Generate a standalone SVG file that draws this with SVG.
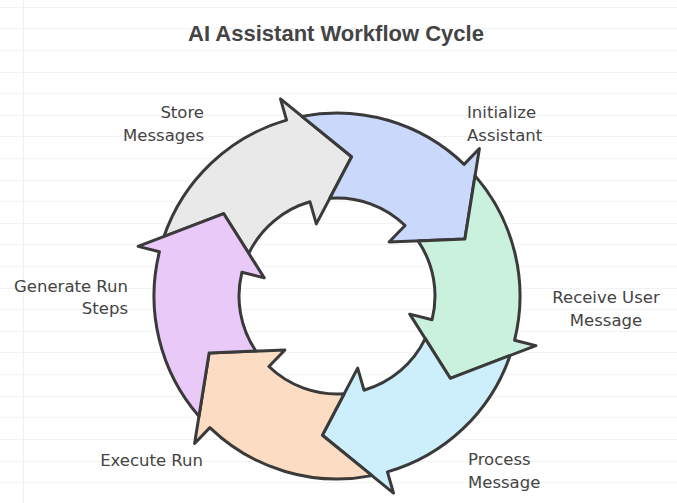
<svg xmlns="http://www.w3.org/2000/svg" xmlns:xlink="http://www.w3.org/1999/xlink" width="677" height="503" viewBox="0 0 677 503">
<style>
.arrow{stroke:#3a3a3a;stroke-width:3;stroke-linejoin:round}
.lbl{font-family:"DejaVu Sans","Liberation Sans",sans-serif;font-size:16.5px;fill:#444}
.title{font-family:"Liberation Sans",Arial,sans-serif;font-size:22px;font-weight:bold;fill:#444}
.paper{stroke:#f3f3f3;stroke-width:1}
</style>
<defs>
<path id="seg" d="M15.82,-182.32 A183,183 0 0 1 158.48,-91.5 L177.54,-102.5 L138.64,-19.48 L64.95,-37.5 L84.87,-49 A98,98 0 0 0 20.04,-95.93 L52.44,-129.81 Z"/>
</defs>
<rect width="677" height="503" fill="#ffffff"/>
<g id="paper">
<path class="paper" d="M0,7.5H677M0,28.5H677M0,50.5H677M0,72.5H677M0,93.5H677M0,115.5H677M0,136.5H677M0,158.5H677M0,180.5H677M0,201.5H677M0,223.5H677M0,244.5H677M0,266.5H677M0,288.5H677M0,309.5H677M0,331.5H677M0,352.5H677M0,374.5H677M0,396.5H677M0,417.5H677M0,439.5H677M0,461.5H677M0,482.5H677"/>
<path d="M23.5,0V503" stroke="#f6eded" stroke-width="1"/>
</g>
<text class="title" x="336" y="41" text-anchor="middle">AI Assistant Workflow Cycle</text>
<g id="connectors"/>
<g id="store-messages">
<use xlink:href="#seg" href="#seg" class="arrow" fill="#e9e9e9" transform="translate(337,296) rotate(-76)"/>
<text class="lbl" x="204" y="118" text-anchor="end">Store</text>
<text class="lbl" x="204" y="141" text-anchor="end">Messages</text>
</g>
<g id="initialize-assistant">
<use xlink:href="#seg" href="#seg" class="arrow" fill="#c9d8fb" transform="translate(337,296) rotate(-16)"/>
<text class="lbl" x="467" y="118">Initialize</text>
<text class="lbl" x="467" y="141">Assistant</text>
</g>
<g id="receive-user-message">
<use xlink:href="#seg" href="#seg" class="arrow" fill="#caf1de" transform="translate(337,296) rotate(44)"/>
<text class="lbl" x="606" y="303" text-anchor="middle">Receive User</text>
<text class="lbl" x="606" y="326" text-anchor="middle">Message</text>
</g>
<g id="process-message">
<use xlink:href="#seg" href="#seg" class="arrow" fill="#cdeffb" transform="translate(337,296) rotate(104)"/>
<text class="lbl" x="468" y="465">Process</text>
<text class="lbl" x="468" y="488">Message</text>
</g>
<g id="execute-run">
<use xlink:href="#seg" href="#seg" class="arrow" fill="#fcdcc2" transform="translate(337,296) rotate(164)"/>
<text class="lbl" x="203" y="466" text-anchor="end">Execute Run</text>
</g>
<g id="generate-run-steps">
<use xlink:href="#seg" href="#seg" class="arrow" fill="#e9c9f8" transform="translate(337,296) rotate(224)"/>
<text class="lbl" x="128" y="292" text-anchor="end">Generate Run</text>
<text class="lbl" x="128" y="314" text-anchor="end">Steps</text>
</g>
</svg>
